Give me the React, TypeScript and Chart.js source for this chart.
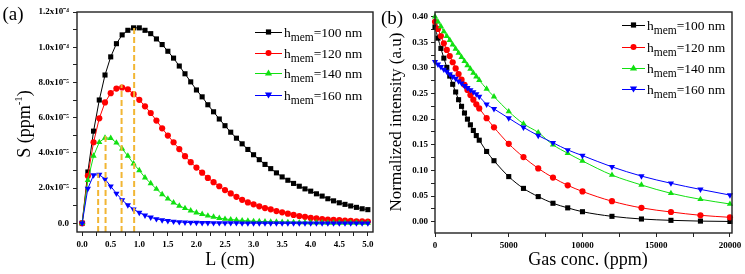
import React, { useEffect, useRef } from 'react';
import { Chart, registerables } from 'chart.js';
Chart.register(...registerables);

const FONT = '"Liberation Serif", "Times New Roman", serif';

// ---------- Panel (a): sensitivity vs length ----------
const lengthCm = [0, 0.1, 0.2, 0.3, 0.4, 0.5, 0.6, 0.7, 0.8, 0.9, 1.0, 1.1, 1.2, 1.3, 1.4, 1.5, 1.6, 1.7, 1.8, 1.9, 2.0, 2.1, 2.2, 2.3, 2.4, 2.5, 2.6, 2.7, 2.8, 2.9, 3.0, 3.1, 3.2, 3.3, 3.4, 3.5, 3.6, 3.7, 3.8, 3.9, 4.0, 4.1, 4.2, 4.3, 4.4, 4.5, 4.6, 4.7, 4.8, 4.9, 5.0];
const sens100 = [0, 2.91e-5, 5.23e-5, 7.0e-5, 8.42e-5, 9.45e-5, 10.2e-5, 10.7e-5, 10.96e-5, 11.1e-5, 11.1e-5, 10.96e-5, 10.77e-5, 10.47e-5, 10.15e-5, 9.77e-5, 9.38e-5, 8.93e-5, 8.49e-5, 8.03e-5, 7.57e-5, 7.18e-5, 6.73e-5, 6.33e-5, 5.92e-5, 5.54e-5, 5.17e-5, 4.83e-5, 4.51e-5, 4.19e-5, 3.89e-5, 3.61e-5, 3.34e-5, 3.1e-5, 2.86e-5, 2.63e-5, 2.44e-5, 2.26e-5, 2.1e-5, 1.95e-5, 1.82e-5, 1.67e-5, 1.54e-5, 1.39e-5, 1.27e-5, 1.16e-5, 1.07e-5, 0.98e-5, 0.9e-5, 0.82e-5, 0.77e-5];
const sens120 = [0, 2.69e-5, 4.6e-5, 5.96e-5, 6.86e-5, 7.39e-5, 7.65e-5, 7.71e-5, 7.61e-5, 7.33e-5, 7.01e-5, 6.64e-5, 6.26e-5, 5.83e-5, 5.39e-5, 4.98e-5, 4.6e-5, 4.21e-5, 3.81e-5, 3.47e-5, 3.16e-5, 2.87e-5, 2.57e-5, 2.33e-5, 2.1e-5, 1.88e-5, 1.69e-5, 1.5e-5, 1.33e-5, 1.18e-5, 1.07e-5, 0.96e-5, 0.86e-5, 0.79e-5, 0.69e-5, 0.62e-5, 0.54e-5, 0.47e-5, 0.41e-5, 0.36e-5, 0.3e-5, 0.28e-5, 0.24e-5, 0.21e-5, 0.19e-5, 0.17e-5, 0.15e-5, 0.13e-5, 0.11e-5, 0.1e-5, 0.09e-5];
const sens140 = [0, 2.44e-5, 3.82e-5, 4.6e-5, 4.85e-5, 4.83e-5, 4.57e-5, 4.23e-5, 3.82e-5, 3.38e-5, 3.0e-5, 2.59e-5, 2.26e-5, 1.94e-5, 1.64e-5, 1.39e-5, 1.17e-5, 0.98e-5, 0.85e-5, 0.71e-5, 0.6e-5, 0.51e-5, 0.42e-5, 0.36e-5, 0.29e-5, 0.24e-5, 0.21e-5, 0.18e-5, 0.15e-5, 0.13e-5, 0.11e-5, 0.1e-5, 0.09e-5, 0.08e-5, 0.07e-5, 0.06e-5, 0.05e-5, 0.05e-5, 0.04e-5, 0.04e-5, 0.03e-5, 0.03e-5, 0.03e-5, 0.02e-5, 0.02e-5, 0.02e-5, 0.02e-5, 0.02e-5, 0.01e-5, 0.01e-5, 0.01e-5];
const sens160 = [0, 1.97e-5, 2.73e-5, 2.76e-5, 2.5e-5, 2.1e-5, 1.69e-5, 1.32e-5, 1.03e-5, 0.79e-5, 0.6e-5, 0.45e-5, 0.33e-5, 0.24e-5, 0.18e-5, 0.13e-5, 0.1e-5, 0.07e-5, 0.05e-5, 0.04e-5, 0.03e-5, 0.02e-5, 0.02e-5, 0.01e-5, 0.01e-5, 0.01e-5, 0.01e-5, 0.01e-5, 0, 0, 0, 0, 0, 0, 0, 0, 0, 0, 0, 0, 0, 0, 0, 0, 0, 0, 0, 0, 0, 0, 0];
// optimum-length markers (dashed)
const peakL = [0.28, 0.41, 0.69, 0.91];
const peakS = [2.82e-5, 4.98e-5, 7.89e-5, 11.15e-5];

const lTickValues = [0, 0.25, 0.5, 0.75, 1.0, 1.25, 1.5, 1.75, 2.0, 2.25, 2.5, 2.75, 3.0, 3.25, 3.5, 3.75, 4.0, 4.25, 4.5, 4.75, 5.0];
const lTickLabels = ['0.0', '', '0.5', '', '1.0', '', '1.5', '', '2.0', '', '2.5', '', '3.0', '', '3.5', '', '4.0', '', '4.5', '', '5.0'];
const sTickValues = [0, 1e-5, 2e-5, 3e-5, 4e-5, 5e-5, 6e-5, 7e-5, 8e-5, 9e-5, 10e-5, 11e-5, 12e-5];
const sTickLabels = ['0.0', '', '2.0x10\u207B\u2075', '', '4.0x10\u207B\u2075', '', '6.0x10\u207B\u2075', '', '8.0x10\u207B\u2075', '', '1.0x10\u207B\u2074', '', '1.2x10\u207B\u2074'];

// ---------- Panel (b): normalized intensity vs gas concentration ----------
const gasConc = [0, 200, 400, 600, 800, 1000, 1200, 1400, 1600, 1800, 2000, 2200, 2400, 2600, 2800, 3000, 3500, 4000, 5000, 6000, 7000, 8000, 9000, 10000, 12000, 14000, 16000, 18000, 20000];
const int100 = [0.380, 0.358, 0.338, 0.319, 0.301, 0.284, 0.268, 0.253, 0.238, 0.225, 0.212, 0.200, 0.189, 0.178, 0.168, 0.159, 0.137, 0.119, 0.088, 0.065, 0.049, 0.036, 0.027, 0.0195, 0.0105, 0.0053, 0.0027, 0.0012, 0.0005];
const int120 = [0.390, 0.376, 0.362, 0.348, 0.335, 0.323, 0.311, 0.299, 0.288, 0.277, 0.267, 0.257, 0.247, 0.238, 0.229, 0.221, 0.202, 0.184, 0.152, 0.126, 0.104, 0.086, 0.071, 0.059, 0.040, 0.027, 0.019, 0.0125, 0.0086];
const int140 = [0.400, 0.390, 0.381, 0.371, 0.362, 0.354, 0.345, 0.337, 0.329, 0.321, 0.313, 0.305, 0.298, 0.290, 0.283, 0.276, 0.259, 0.244, 0.215, 0.191, 0.174, 0.150, 0.1335, 0.1185, 0.091, 0.0717, 0.0554, 0.0437, 0.0346];
const int160 = [0.312, 0.307, 0.302, 0.297, 0.293, 0.288, 0.283, 0.279, 0.274, 0.270, 0.265, 0.261, 0.257, 0.253, 0.249, 0.244, 0.229, 0.220, 0.202, 0.184, 0.168, 0.154, 0.140, 0.129, 0.107, 0.089, 0.075, 0.063, 0.052];

const cTickValues = [0, 2500, 5000, 7500, 10000, 12500, 15000, 17500, 20000];
const cTickLabels = ['0', '', '5000', '', '10000', '', '15000', '', '20000'];
const iTickValues = [0, 0.025, 0.05, 0.075, 0.1, 0.125, 0.15, 0.175, 0.2, 0.225, 0.25, 0.275, 0.3, 0.325, 0.35, 0.375, 0.4];
const iTickLabels = ['0.00', '', '0.05', '', '0.10', '', '0.15', '', '0.20', '', '0.25', '', '0.30', '', '0.35', '', '0.40'];

const seriesNames = ['100', '120', '140', '160'];
const COLORS = ['#000000', '#ff0000', '#11e011', '#0000ff'];
const STYLES = ['rect', 'circle', 'up', 'down'];
const DASH_COLOR = '#f2b634';

type Seg = { t: string; size: number; dy?: number };

function drawRich(ctx: CanvasRenderingContext2D, segs: Seg[], x: number, y: number, align: 'left' | 'center') {
  let w = 0;
  for (const s of segs) {
    ctx.font = `${s.size}px ${FONT}`;
    w += ctx.measureText(s.t).width;
  }
  let cx = align === 'center' ? x - w / 2 : x;
  for (const s of segs) {
    ctx.font = `${s.size}px ${FONT}`;
    ctx.fillText(s.t, cx, y + (s.dy || 0));
    cx += ctx.measureText(s.t).width;
  }
}

function drawMarker(ctx: CanvasRenderingContext2D, style: string, x: number, y: number, color: string) {
  ctx.fillStyle = color;
  ctx.beginPath();
  if (style === 'rect') ctx.rect(x - 2.6, y - 2.6, 5.2, 5.2);
  else if (style === 'circle') ctx.arc(x, y, 3, 0, Math.PI * 2);
  else if (style === 'up') { ctx.moveTo(x, y - 3.6); ctx.lineTo(x + 3.6, y + 2.4); ctx.lineTo(x - 3.6, y + 2.4); ctx.closePath(); }
  else { ctx.moveTo(x, y + 3.6); ctx.lineTo(x + 3.6, y - 2.4); ctx.lineTo(x - 3.6, y - 2.4); ctx.closePath(); }
  ctx.fill();
}

type Deco = {
  panel: string; panelX: number; panelY: number;
  yTitle: Seg[]; yTitleX: number; yTitleY: number;
  xTitle: Seg[]; xTitleX: number; xTitleY: number;
  legX0: number; legX1: number; legText: number; legRows: number[];
};

function decoPlugin(d: Deco) {
  return {
    id: 'deco',
    afterDraw(chart: any) {
      const ctx: CanvasRenderingContext2D = chart.ctx;
      const a = chart.chartArea;
      ctx.save();
      // frame
      ctx.strokeStyle = '#222';
      ctx.lineWidth = 1.4;
      ctx.strokeRect(a.left, a.top, a.right - a.left, a.bottom - a.top);
      ctx.fillStyle = '#000';
      ctx.textBaseline = 'middle';
      // panel label
      drawRich(ctx, [{ t: d.panel, size: 19 }], d.panelX, d.panelY, 'center');
      // x title
      drawRich(ctx, d.xTitle, d.xTitleX, d.xTitleY, 'center');
      // y title rotated
      ctx.save();
      ctx.translate(d.yTitleX, d.yTitleY);
      ctx.rotate(-Math.PI / 2);
      drawRich(ctx, d.yTitle, 0, 0, 'center');
      ctx.restore();
      // legend
      ctx.textBaseline = 'alphabetic';
      d.legRows.forEach((ry, i) => {
        ctx.strokeStyle = COLORS[i];
        ctx.lineWidth = 1;
        ctx.beginPath();
        ctx.moveTo(d.legX0, ry + 0.5);
        ctx.lineTo(d.legX1, ry + 0.5);
        ctx.stroke();
        drawMarker(ctx, STYLES[i], (d.legX0 + d.legX1) / 2, ry, COLORS[i]);
        ctx.fillStyle = '#000';
        drawRich(ctx, [
          { t: 'h', size: 13.5 },
          { t: 'mem', size: 11.5, dy: 4 },
          { t: '=' + seriesNames[i] + ' nm', size: 13.5 },
        ], d.legText, ry + 4.5, 'left');
      });
      ctx.restore();
    },
  };
}

function pointStyleOf(s: string) {
  return s === 'rect' ? 'rect' : s === 'circle' ? 'circle' : 'triangle';
}

function makeSeries(xs: number[], ys: number[][], smooth: boolean) {
  return ys.map((vals, i) => ({
    label: 'h=' + seriesNames[i] + ' nm',
    data: xs.map((x, j) => ({ x, y: vals[j] })),
    borderColor: COLORS[i],
    backgroundColor: COLORS[i],
    borderWidth: 1,
    pointStyle: pointStyleOf(STYLES[i]),
    pointRotation: STYLES[i] === 'down' ? 180 : 0,
    pointRadius: STYLES[i] === 'rect' ? 3.6 : STYLES[i] === 'circle' ? 3.1 : 3.6,
    pointBorderWidth: 0,
    pointBackgroundColor: COLORS[i],
    pointBorderColor: COLORS[i],
    tension: 0,
    cubicInterpolationMode: smooth ? 'monotone' : 'default',
    clip: false,
    order: 10 - i,
  }));
}

function axis(min: number, max: number, values: number[], labels: string[], fixed: { width?: number; height?: number }, padding: number) {
  return {
    type: 'linear',
    min,
    max,
    afterBuildTicks: (scale: any) => { scale.ticks = values.map((v) => ({ value: v })); },
    afterFit: (scale: any) => {
      if (fixed.width !== undefined) scale.width = fixed.width;
      if (fixed.height !== undefined) scale.height = fixed.height;
    },
    grid: { display: true, drawOnChartArea: false, drawTicks: true, tickLength: 4, color: '#222', lineWidth: 1 },
    border: { display: false },
    ticks: {
      autoSkip: false,
      maxRotation: 0,
      minRotation: 0,
      padding,
      color: '#000',
      font: { family: FONT, size: 9, weight: 'bold' },
      callback: (_v: any, idx: number) => labels[idx] ?? '',
    },
    title: { display: false },
  };
}

export default function App() {
  const refA = useRef<HTMLCanvasElement>(null);
  const refB = useRef<HTMLCanvasElement>(null);

  useEffect(() => {
    const dashSets = peakL.map((x, i) => ({
      label: 'peak' + i,
      data: [{ x, y: -0.5e-5 }, { x, y: peakS[i] }],
      borderColor: DASH_COLOR,
      borderWidth: 2,
      borderDash: [6, 3],
      pointRadius: 0,
      clip: false,
      order: 0,
    }));
    const chartA = new Chart(refA.current as HTMLCanvasElement, {
      type: 'line',
      data: { datasets: [...makeSeries(lengthCm, [sens100, sens120, sens140, sens160], false), ...dashSets] as any },
      options: {
        responsive: false,
        animation: false,
        layout: { padding: { top: 12, right: 7, left: 0, bottom: 0 } },
        plugins: { legend: { display: false }, tooltip: { enabled: false } },
        scales: {
          x: axis(-0.09, 5.09, lTickValues, lTickLabels, { height: 42 }, 3) as any,
          y: axis(-0.5e-5, 1.2e-4, sTickValues, sTickLabels, { width: 77 }, 4) as any,
        },
      },
      plugins: [decoPlugin({
        panel: '(a)', panelX: 13, panelY: 15,
        yTitle: [{ t: 'S (ppm', size: 18 }, { t: '-1', size: 11, dy: -6 }, { t: ')', size: 18 }], yTitleX: 25, yTitleY: 124,
        xTitle: [{ t: 'L (cm)', size: 18 }], xTitleX: 230, xTitleY: 260,
        legX0: 255, legX1: 282, legText: 284, legRows: [32, 53, 73, 95],
      })],
    });
    const chartB = new Chart(refB.current as HTMLCanvasElement, {
      type: 'line',
      data: { datasets: makeSeries(gasConc, [int100, int120, int140, int160], true) as any },
      options: {
        responsive: false,
        animation: false,
        layout: { padding: { top: 12, right: 13, left: 0, bottom: 0 } },
        plugins: { legend: { display: false }, tooltip: { enabled: false } },
        scales: {
          x: axis(0, 20140, cTickValues, cTickLabels, { height: 41 }, 3) as any,
          y: axis(-0.022, 0.409, iTickValues, iTickLabels, { width: 55 }, 3) as any,
        },
      },
      plugins: [decoPlugin({
        panel: '(b)', panelX: 12, panelY: 19,
        yTitle: [{ t: 'Normalized intensity (a.u)', size: 17 }], yTitleX: 17, yTitleY: 122,
        xTitle: [{ t: 'Gas conc. (ppm)', size: 18 }], xTitleX: 208, xTitleY: 260,
        legX0: 242, legX1: 265, legText: 267, legRows: [25, 47, 68, 89],
      })],
    });
    return () => { chartA.destroy(); chartB.destroy(); };
  }, []);

  return (
    <div style={{ position: 'absolute', left: 0, top: 0, width: 745, height: 274, background: '#fff', overflow: 'hidden' }}>
      <canvas ref={refA} width={380} height={274} style={{ position: 'absolute', left: 0, top: 0, width: 380, height: 274 }} />
      <canvas ref={refB} width={365} height={274} style={{ position: 'absolute', left: 380, top: 0, width: 365, height: 274 }} />
    </div>
  );
}
